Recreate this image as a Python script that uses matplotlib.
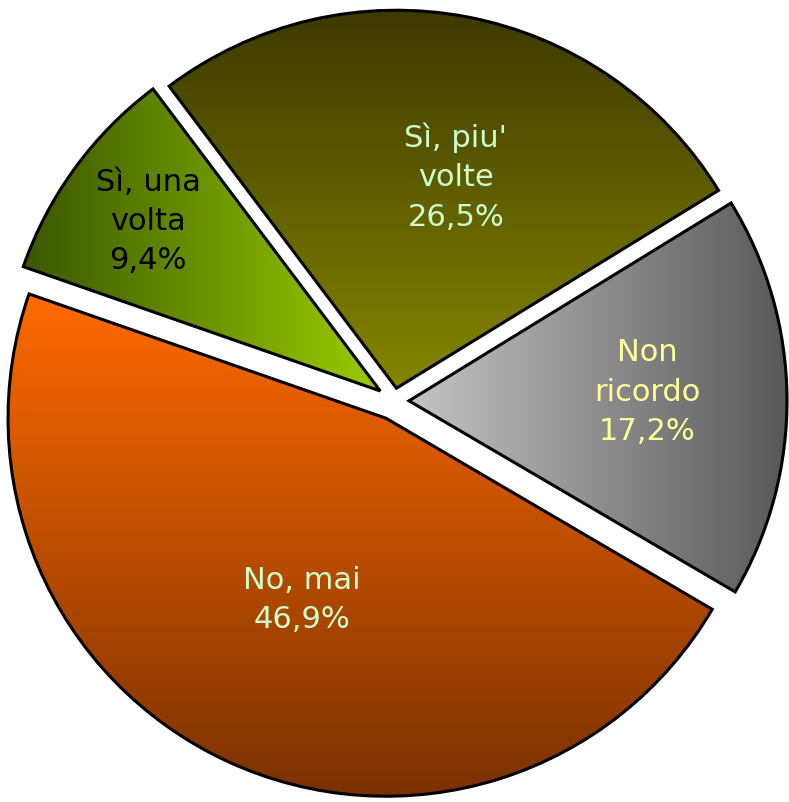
import numpy as np
import matplotlib
matplotlib.use('Agg')
import matplotlib.pyplot as plt
from matplotlib.colors import LinearSegmentedColormap

# data
labels  = ["Sì, una\nvolta", "Sì, piu'\nvolte", "Non\nricordo", "No, mai"]
values  = [9.4, 26.5, 17.2, 46.9]
pct_txt = ["9,4%", "26,5%", "17,2%", "46,9%"]

# styles
grad_cols = [('#3a5700', '#9ccc00'),   # left -> right
             ('#3c3800', '#858500'),   # top -> bottom
             ('#c4c4c4', '#585858'),   # left -> right
             ('#ff6a00', '#773000')]   # top -> bottom
grad_dir  = ['h', 'v', 'h', 'v']
txt_cols  = ['black', '#ccffcc', '#ffff99', '#ccffcc']
explode   = [17, 13, 15, 19]          # pixels (pie explode is in data units)
lab_r     = [0.76, 0.58, 0.63, 0.53]
lab_da    = [0, -5, 1.5, 0]           # degrees shift of label from wedge middle

W, H = 789, 802
R = 378
cx, cy = 394, H - 401

fig = plt.figure(figsize=(W/100, H/100), dpi=100)
ax = fig.add_axes([0, 0, 1, 1])

wedges, _ = ax.pie(values, explode=explode, startangle=160.8, counterclock=False,
                   radius=R, center=(cx, cy),
                   wedgeprops=dict(edgecolor='black', linewidth=2.2))

for i, w in enumerate(wedges):
    pts = w.get_path().vertices
    bx0, by0 = pts.min(axis=0)
    bx1, by1 = pts.max(axis=0)
    cmap = LinearSegmentedColormap.from_list('g%d' % i, grad_cols[i])
    if grad_dir[i] == 'h':
        g = np.linspace(0, 1, 256).reshape(1, -1)
    else:
        g = np.linspace(1, 0, 256).reshape(-1, 1)
    im = ax.imshow(g, extent=[bx0, bx1, by0, by1], origin='lower', cmap=cmap,
                   aspect='auto', interpolation='bilinear', zorder=1)
    im.set_clip_path(w)
    w.set_facecolor('none')
    w.set_zorder(2)

    # label
    ang = np.deg2rad((w.theta1 + w.theta2) / 2 + lab_da[i])
    tx = w.center[0] + lab_r[i] * R * np.cos(ang)
    ty = w.center[1] + lab_r[i] * R * np.sin(ang)
    ax.text(tx, ty, labels[i] + '\n' + pct_txt[i], ha='center', va='center',
            fontsize=22, color=txt_cols[i], linespacing=1.45, zorder=3)

ax.set_xlim(0, W)
ax.set_ylim(0, H)
ax.set_aspect('equal')
ax.axis('off')

fig.savefig('out.png', dpi=100)
